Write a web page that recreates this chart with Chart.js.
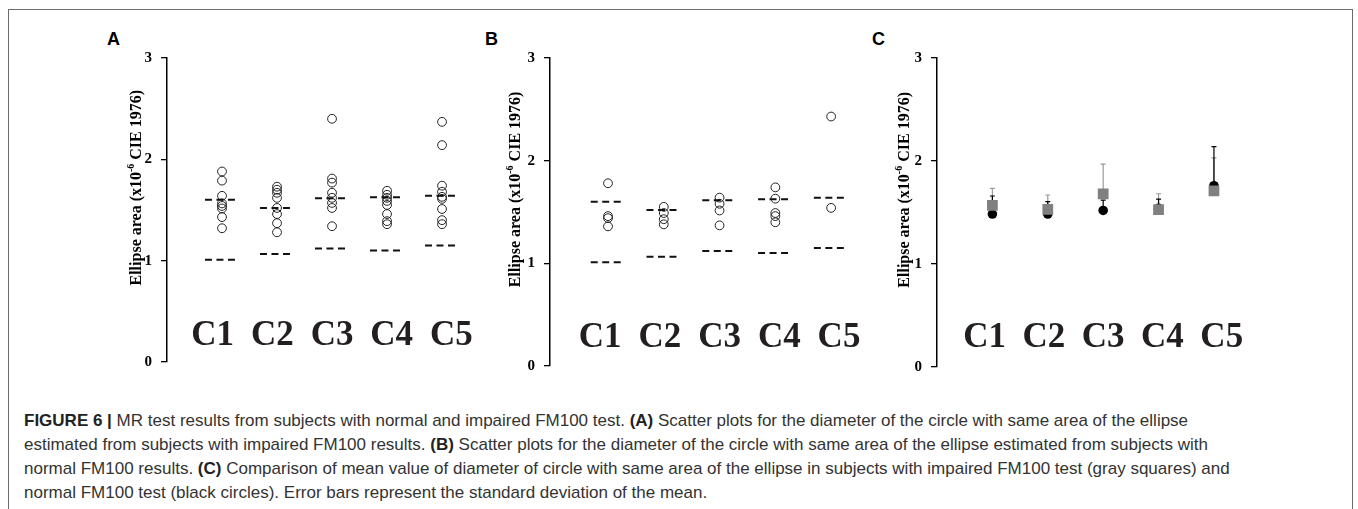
<!DOCTYPE html>
<html><head><meta charset="utf-8">
<script src="https://cdn.jsdelivr.net/npm/chart.js@4.4.1/dist/chart.umd.min.js"></script>
<style>
html,body{margin:0;padding:0;background:#fff;width:1358px;height:509px;overflow:hidden;}
body{position:relative;}
.frame{position:absolute;left:8px;top:9px;width:1343px;height:540px;border:1px solid #6b6b6b;}
canvas{position:absolute;}
.lbl{position:absolute;font:bold 18px 'Liberation Sans',Arial,sans-serif;color:#000;line-height:18px;}
.cap{position:absolute;left:24px;top:409px;font:17px 'Liberation Sans',Arial,sans-serif;line-height:24px;color:#333;white-space:nowrap;}
.cap b{color:#222;}
</style></head><body>
<div class="frame"></div>
<div class="lbl" style="left:107px;top:30px">A</div>
<div class="lbl" style="left:485px;top:30px">B</div>
<div class="lbl" style="left:872px;top:30px">C</div>
<canvas id="cA" width="359" height="340" style="left:122px;top:40px"></canvas>
<canvas id="cB" width="365" height="345" style="left:505px;top:40px"></canvas>
<canvas id="cC" width="365" height="345" style="left:892px;top:40px"></canvas>
<div class="cap"><b>FIGURE 6 |</b> MR test results from subjects with normal and impaired FM100 test. <b>(A)</b> Scatter plots for the diameter of the circle with same area of the ellipse<br>estimated from subjects with impaired FM100 results. <b>(B)</b> Scatter plots for the diameter of the circle with same area of the ellipse estimated from subjects with<br>normal FM100 results. <b>(C)</b> Comparison of mean value of diameter of circle with same area of the ellipse in subjects with impaired FM100 test (gray squares) and<br>normal FM100 test (black circles). Error bars represent the standard deviation of the mean.</div>
<script>
// ---------- data ----------
const CATEGORIES = ['C1', 'C2', 'C3', 'C4', 'C5'];
const Y_TICKS = [0, 1, 2, 3];
const Y_TITLE = 'Ellipse area (x10⁻⁶ CIE 1976)';
const Y_TITLE_PARTS = ['Ellipse area (x10', '-6', ' CIE 1976)'];

// dashed reference limits (same in A and B)
const UPPER_LIMIT = [1.60, 1.52, 1.615, 1.625, 1.64];
const LOWER_LIMIT = [1.01, 1.065, 1.12, 1.10, 1.15];

// Panel A: impaired FM100 subjects
const A_C1 = [1.88, 1.79, 1.64, 1.565, 1.54, 1.515, 1.43, 1.32];
const A_C2 = [1.73, 1.70, 1.67, 1.62, 1.52, 1.46, 1.37, 1.28];
const A_C3 = [2.40, 1.81, 1.77, 1.67, 1.62, 1.57, 1.52, 1.34];
const A_C4 = [1.69, 1.65, 1.62, 1.59, 1.55, 1.46, 1.39, 1.36];
const A_C5 = [2.37, 2.14, 1.74, 1.68, 1.63, 1.61, 1.51, 1.40, 1.36];

// Panel B: normal FM100 subjects
const B_C1 = [1.78, 1.46, 1.44, 1.36];
const B_C2 = [1.55, 1.49, 1.43, 1.38];
const B_C3 = [1.64, 1.58, 1.515, 1.37];
const B_C4 = [1.74, 1.63, 1.49, 1.46, 1.40];
const B_C5 = [2.43, 1.54];

// Panel C: means and SD
const C_MEAN_NORMAL = [1.485, 1.485, 1.52, 1.54, 1.76];
const C_SD_NORMAL = [0.175, 0.12, 0.10, 0.09, 0.38];
const C_MEAN_IMPAIRED = [1.57, 1.53, 1.68, 1.527, 1.71];
const C_SD_IMPAIRED = [0.165, 0.14, 0.29, 0.155, 0.32];

// ---------- helpers ----------
const SERIF = "'Liberation Serif','Times New Roman',serif";
const toPoints = (groups) => groups.flatMap((g, i) => g.map(v => ({x: i + 1, y: v})));
const dashData = (lim) => lim.flatMap((v, i) => [{x: i + 1 - 0.31, y: v}, {x: i + 1 + 0.24, y: v}, {x: i + 1.5, y: null}]);

const errorBars = {
  id: 'errorBars',
  beforeDatasetsDraw(chart, args, opts) {
    if (!opts || !opts.sets) return;
    const {ctx, scales: {x, y}} = chart;
    opts.sets.forEach(s => {
      ctx.save();
      ctx.strokeStyle = s.color;
      ctx.lineWidth = s.width;
      s.mean.forEach((m, i) => {
        const px = x.getPixelForValue(i + 1);
        const y0 = y.getPixelForValue(m);
        const y1 = y.getPixelForValue(m + s.sd[i]);
        ctx.beginPath();
        ctx.moveTo(px, y0); ctx.lineTo(px, y1);
        ctx.moveTo(px - 2.5, y1); ctx.lineTo(px + 2.5, y1);
        ctx.stroke();
      });
      ctx.restore();
    });
  }
};

// y-axis title with a real superscript, placed along the y scale
const axisTitle = {
  id: 'axisTitle',
  afterDraw(chart, args, opts) {
    if (!opts || !opts.parts) return;
    const {ctx} = chart;
    const ys = chart.scales.y;
    const cx = ys.right - opts.offset;
    const cy = ys.getPixelForValue(opts.center);
    const main = 'bold ' + opts.size + 'px ' + SERIF;
    const sup = 'bold ' + Math.round(opts.size * 0.62) + 'px ' + SERIF;
    ctx.save();
    const fonts = opts.parts.map((t, i) => i === 1 ? sup : main);
    const widths = opts.parts.map((t, i) => { ctx.font = fonts[i]; return ctx.measureText(t).width; });
    const total = widths.reduce((a, b) => a + b, 0);
    ctx.translate(cx, cy);
    ctx.rotate(-Math.PI / 2);
    ctx.fillStyle = '#000';
    ctx.textBaseline = 'middle';
    ctx.textAlign = 'left';
    let pos = -total / 2;
    opts.parts.forEach((t, i) => {
      ctx.font = fonts[i];
      ctx.fillText(t, pos, i === 1 ? -opts.size * 0.36 : 0);
      pos += widths[i];
    });
    ctx.restore();
  }
};

function makePanel(id, p) {
  const r = p.dataStep / 60.75; // data spacing / label spacing
  return new Chart(document.getElementById(id), {
    type: 'scatter',
    data: {datasets: p.datasets},
    plugins: [errorBars, axisTitle],
    options: {
      responsive: false,
      animation: false,
      events: [],
      layout: {padding: {top: p.padTop, bottom: p.padBottom, left: 0, right: 0}},
      plugins: {
        legend: {display: false}, tooltip: {enabled: false},
        errorBars: p.errorBars || {},
        axisTitle: {parts: Y_TITLE_PARTS, size: 16, offset: p.titleOffset, center: 1.72}
      },
      scales: {
        x: {type: 'linear', display: false, min: p.xMin, max: p.xMax},
        xl: {
          type: 'linear', position: 'bottom',
          min: 3 + (p.xMin - 3) * r, max: 3 + (p.xMax - 3) * r,
          afterBuildTicks: s => { s.ticks = CATEGORIES.map((c, i) => ({value: i + 1})); },
          afterFit: s => { s.height = 0; },
          ticks: {mirror: true, callback: (v, i) => CATEGORIES[i], font: {family: SERIF, weight: 'bold', size: 35}, color: '#231f20', padding: p.labelPad, autoSkip: false, maxRotation: 0, minRotation: 0},
          grid: {display: false, drawTicks: false},
          border: {display: false}
        },
        y: {
          type: 'linear', min: 0, max: 3,
          afterBuildTicks: s => { s.ticks = Y_TICKS.map(v => ({value: v})); },
          afterFit: s => { s.width = 45; },
          ticks: {font: {family: SERIF, weight: 'bold', size: 15}, color: '#000', padding: 9},
          grid: {display: true, drawOnChartArea: false, drawTicks: true, tickLength: 6, color: '#000', lineWidth: 1.3},
          border: {display: true, color: '#000', width: 1.5},
          title: {display: false, text: Y_TITLE}
        }
      }
    }
  });
}

function scatterPanelDatasets(groups) {
  return [
    {type: 'line', data: dashData(UPPER_LIMIT), borderColor: '#111', borderWidth: 2, borderDash: [7, 4.5], pointRadius: 0, spanGaps: false, fill: false},
    {type: 'line', data: dashData(LOWER_LIMIT), borderColor: '#111', borderWidth: 2, borderDash: [7, 4.5], pointRadius: 0, spanGaps: false, fill: false},
    {data: toPoints(groups), pointStyle: 'circle', pointRadius: 4.4, borderWidth: 1, borderColor: '#222', backgroundColor: 'rgba(0,0,0,0)'}
  ];
}

makePanel('cA', {padTop: 17, padBottom: 17, xMin: 0, xMax: 5.61, dataStep: 56, labelPad: 4.6, titleOffset: 30,
  datasets: scatterPanelDatasets([A_C1, A_C2, A_C3, A_C4, A_C5])});

makePanel('cB', {padTop: 16, padBottom: 19, xMin: -0.04, xMax: 5.6, dataStep: 56.75, labelPad: 7.3, titleOffset: 34,
  datasets: scatterPanelDatasets([B_C1, B_C2, B_C3, B_C4, B_C5])});

makePanel('cC', {padTop: 18, padBottom: 18, xMin: 0, xMax: 5.64, dataStep: 56.75, labelPad: 8.3, titleOffset: 32,
  datasets: [
    {label: 'Impaired FM100', data: C_MEAN_IMPAIRED.map((v, i) => ({x: i + 1, y: v})), pointStyle: 'rect', pointRadius: 7.6, borderWidth: 0, backgroundColor: '#808080', borderColor: '#808080'},
    {label: 'Normal FM100', data: C_MEAN_NORMAL.map((v, i) => ({x: i + 1, y: v})), pointStyle: 'circle', pointRadius: 4.8, borderWidth: 0, backgroundColor: '#000', borderColor: '#000'}
  ],
  errorBars: {sets: [
    {mean: C_MEAN_IMPAIRED, sd: C_SD_IMPAIRED, color: '#9a9a9a', width: 1.2},
    {mean: C_MEAN_NORMAL, sd: C_SD_NORMAL, color: '#000', width: 1.2}
  ]}
});
</script>
</body></html>
